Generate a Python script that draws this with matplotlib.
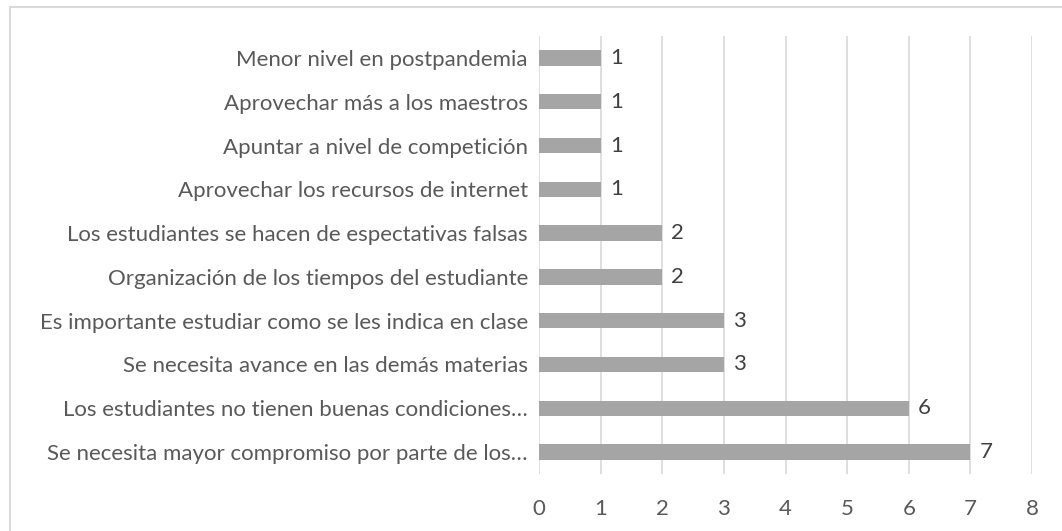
import matplotlib
matplotlib.use("Agg")
import matplotlib.pyplot as plt
from matplotlib.lines import Line2D

categories = [
    "Se necesita mayor compromiso por parte de los…",
    "Los estudiantes no tienen buenas condiciones…",
    "Se necesita avance en las demás materias",
    "Es importante estudiar como se les indica en clase",
    "Organización de los tiempos del estudiante",
    "Los estudiantes se hacen de espectativas falsas",
    "Aprovechar los recursos de internet",
    "Apuntar a nivel de competición",
    "Aprovechar más a los maestros",
    "Menor nivel en postpandemia",
]
values = [7, 6, 3, 3, 2, 2, 1, 1, 1, 1]
xticks = [0, 1, 2, 3, 4, 5, 6, 7, 8]

plt.rcParams['font.family'] = ['Lato', 'DejaVu Sans']
FS = 16

fig = plt.figure(figsize=(10.62, 5.31), dpi=100)
# outer chart border (only top and left visible in the crop)
fig.lines.append(Line2D([10/1062, 10/1062], [0, 1 - 7/531], transform=fig.transFigure,
                        color='#d9d9d9', linewidth=1.5))
fig.lines.append(Line2D([10/1062, 1], [1 - 7/531, 1 - 7/531], transform=fig.transFigure,
                        color='#d9d9d9', linewidth=1.5))

ax = fig.add_axes([539/1062, 1 - 474/531, 493/1062, 438/531])

y = list(range(len(categories)))
ax.barh(y, values, height=0.35, color='#a5a5a5', zorder=3)
for yi, v in zip(y, values):
    ax.text(v + 0.15, yi, str(v), va='center', ha='left', fontsize=FS, color='#404040')

ax.set_xlim(0, 8)
ax.set_ylim(-0.5, len(categories) - 0.5)
ax.set_xticks(xticks)
ax.set_yticks(y)
ax.set_yticklabels(categories)
ax.grid(axis='x', color='#d9d9d9', linewidth=1.2, zorder=0)
for s in ax.spines.values():
    s.set_visible(False)
ax.tick_params(axis='both', length=0, labelsize=FS, labelcolor='#595959')
ax.tick_params(axis='y', pad=8)
ax.tick_params(axis='x', pad=18)

fig.savefig("out.png", dpi=100)
